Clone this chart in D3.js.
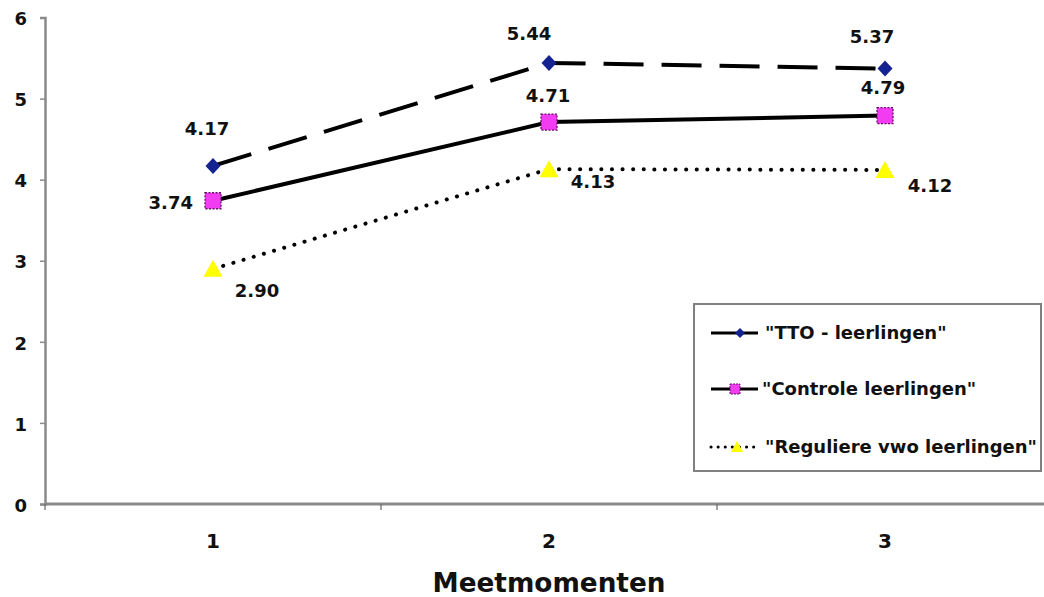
<!DOCTYPE html>
<html><head><meta charset="utf-8">
<script src="https://cdn.jsdelivr.net/npm/d3@7/dist/d3.min.js"></script>
<style>
html,body{margin:0;padding:0;background:#fff;}
svg{display:block;font-family:"DejaVu Sans",Verdana,sans-serif;}
</style></head>
<body><svg id="c" width="1044" height="597"></svg>
<script>
const categories = ["1", "2", "3"];
const ttoValues = [4.17, 5.44, 5.37];
const controleValues = [3.74, 4.71, 4.79];
const reguliereValues = [2.90, 4.13, 4.12];
const seriesNames = ['"TTO - leerlingen"', '"Controle leerlingen"', '"Reguliere vwo leerlingen"'];
const yTicks = [0, 1, 2, 3, 4, 5, 6];
const xTitle = "Meetmomenten";

const FONT = '"DejaVu Sans", Verdana, sans-serif';
const svg = d3.select("#c");
const x = d3.scaleBand().domain(categories).range([45, 1053]).padding(0);
const y = d3.scaleLinear().domain([0, 6]).range([504, 17.5]);
const cx = d => x(d) + x.bandwidth() / 2;

// Y axis
const yAxis = svg.append("g").attr("transform", "translate(45,0)")
  .call(d3.axisLeft(y).tickValues(yTicks).tickSize(5).tickPadding(13).tickFormat(d3.format("d")));
yAxis.attr("font-family", FONT).attr("font-size", 18);
yAxis.select(".domain").attr("stroke", "#8a8a8a").attr("stroke-width", 2.5);
yAxis.selectAll(".tick line").attr("stroke", "#8a8a8a").attr("stroke-width", 1.5);
yAxis.selectAll(".tick text")
  .style("font-size", "18px").style("font-weight", "bold").style("font-family", FONT)
  .attr("fill", "#111").attr("dy", "0.4em");

// X axis (boundary ticks + centered labels)
const xAxis = svg.append("g").attr("transform", "translate(0,504)");
xAxis.append("line").attr("x1", 45).attr("x2", 1044).attr("y1", 0).attr("y2", 0)
  .attr("stroke", "#8a8a8a").attr("stroke-width", 3);
xAxis.selectAll("line.bt").data(categories).enter().append("line").attr("class", "bt")
  .attr("x1", d => x(d)).attr("x2", d => x(d)).attr("y1", 0).attr("y2", 6)
  .attr("stroke", "#666").attr("stroke-width", 1.2);
xAxis.selectAll("text.xl").data(categories).enter().append("text").attr("class", "xl")
  .attr("x", d => cx(d)).attr("y", 44).attr("text-anchor", "middle")
  .style("font-size", "20px").style("font-weight", "bold").attr("fill", "#111").text(d => d);

svg.append("text").attr("x", 549).attr("y", 592).attr("text-anchor", "middle")
  .style("font-size", "27px").style("font-weight", "bold").attr("fill", "#111")
  .attr("textLength", 233).attr("lengthAdjust", "spacingAndGlyphs").text(xTitle);

// Series config
const series = [
  { name: seriesNames[0], values: ttoValues, dash: "40 18", cap: "butt", marker: "diamond",
    labels: [{dx: -6, dy: -31, a: "middle"}, {dx: -20, dy: -23, a: "middle"}, {dx: -13, dy: -26, a: "middle"}] },
  { name: seriesNames[1], values: controleValues, dash: null, cap: "butt", marker: "square",
    labels: [{dx: -20, dy: 8, a: "end"}, {dx: -1, dy: -20, a: "middle"}, {dx: -2, dy: -22, a: "middle"}] },
  { name: seriesNames[2], values: reguliereValues, dash: "0.1 10.5", cap: "round", marker: "triangle",
    labels: [{dx: 44, dy: 28, a: "middle"}, {dx: 44, dy: 19, a: "middle"}, {dx: 45, dy: 22, a: "middle"}] }
];

const line = d3.line().x((d, i) => cx(categories[i])).y(d => y(d));

function drawMarker(g, type, px, py) {
  if (type === "diamond") {
    g.append("path").attr("d", `M${px},${py-8}L${px+7.5},${py}L${px},${py+8}L${px-7.5},${py}Z`)
      .attr("fill", "#14238f");
  } else if (type === "square") {
    g.append("rect").attr("x", px-8).attr("y", py-8).attr("width", 16).attr("height", 16)
      .attr("fill", "#f23cf2").attr("stroke", "#6a0f6a").attr("stroke-width", 1.3).attr("stroke-dasharray", "2 1.5");
  } else {
    g.append("path").attr("d", `M${px},${py-9}L${px+9.5},${py+8}L${px-9.5},${py+8}Z`)
      .attr("fill", "#ffff00");
  }
}

series.forEach(s => {
  svg.append("path").datum(s.values).attr("d", line).attr("fill", "none")
    .attr("stroke", "#000").attr("stroke-width", 4)
    .attr("stroke-linecap", s.cap)
    .attr("stroke-dasharray", s.dash);
});
series.forEach(s => {
  const g = svg.append("g");
  s.values.forEach((v, i) => drawMarker(g, s.marker, cx(categories[i]), y(v)));
  s.values.forEach((v, i) => {
    const L = s.labels[i];
    g.append("text").attr("x", cx(categories[i]) + L.dx).attr("y", y(v) + L.dy)
      .attr("text-anchor", L.a).style("font-size", "18px").style("font-weight", "bold")
      .attr("fill", "#111").text(d3.format(".2f")(v));
  });
});

// Legend
const lg = svg.append("g");
lg.append("rect").attr("x", 694).attr("y", 304).attr("width", 347).attr("height", 167)
  .attr("fill", "#fff").attr("stroke", "#808080").attr("stroke-width", 2);
const legY = [333, 389, 447];
series.forEach((s, i) => {
  const ly = legY[i];
  lg.append("line").attr("x1", 711).attr("x2", 758).attr("y1", ly).attr("y2", ly)
    .attr("stroke", "#000").attr("stroke-width", 3)
    .attr("stroke-linecap", s.cap).attr("stroke-dasharray", i === 2 ? "0.1 7" : null);
  const m = lg.append("g");
  if (s.marker === "diamond") {
    m.append("path").attr("d", `M${740},${ly-5}L${745},${ly}L${740},${ly+5}L${735},${ly}Z`).attr("fill", "#14238f");
  } else if (s.marker === "square") {
    m.append("rect").attr("x", 730).attr("y", ly-5).attr("width", 10).attr("height", 10)
      .attr("fill", "#f23cf2").attr("stroke", "#6a0f6a").attr("stroke-width", 1).attr("stroke-dasharray", "2 1");
  } else {
    m.append("path").attr("d", `M${737},${ly-6}L${743},${ly+5}L${731},${ly+5}Z`).attr("fill", "#ffff00");
  }
  lg.append("text").attr("x", i === 1 ? 762 : 765).attr("y", ly + 6)
    .style("font-size", "18px").style("font-weight", "bold").attr("fill", "#111").text(s.name);
});
</script></body></html>
